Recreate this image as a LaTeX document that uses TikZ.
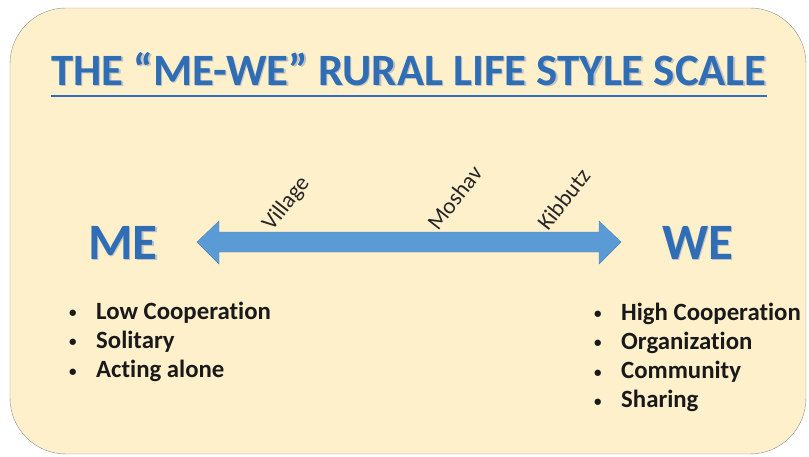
\documentclass[tikz,border=0pt]{standalone}
\usepackage{fontspec}
\setmainfont{Carlito}[Ligatures=NoCommon]
\usetikzlibrary{positioning}

\definecolor{paper}{HTML}{FFF0CC}
\definecolor{frame}{HTML}{8A8F96}
\definecolor{headblue}{HTML}{2F6EB5}
\definecolor{scaleblue}{HTML}{5B9BD5}

% text with a soft grey drop shadow
\newcommand{\shadowed}[1]{\makebox[0pt][l]{\hspace{1.3pt}\raisebox{-1.5pt}{\textcolor{black!24}{#1}}}#1}
% one bullet point, and a column of them hung from its first baseline
\newcommand{\itm}{\makebox[27pt][l]{\raisebox{1.5pt}{\fontsize{15}{15}\selectfont\textbullet}}}
\newcommand{\traitlist}[1]{\parbox[t]{230pt}{\raggedright #1}}

\begin{document}
\begin{tikzpicture}[x=1pt,y=-1pt,
title/.style ={anchor=base, text=headblue, inner sep=0pt,
  font=\fontsize{44.8}{52}\selectfont\bfseries
},
pole/.style ={anchor=base west, text=headblue, inner sep=0pt,
  font=\fontsize{51}{60}\selectfont\bfseries
},
tick/.style ={anchor=base west, rotate=52, inner sep=0pt,
  text=black!85, font=\fontsize{23}{27}\selectfont
},
traits/.style ={anchor=base west, inner sep=0pt,
  text=black!90, font=\fontsize{24.8}{29.3}\selectfont\bfseries
}]
\useasboundingbox (0,0) rectangle (809,456);
\draw[frame, fill=paper, rounded corners=56pt] (10,8) rectangle (806,454);

% heading
\node (title) at (409,85) [title] {\shadowed{THE “ME-WE” RURAL LIFE STYLE SCALE}};
\draw[headblue, line width=2.6pt] ([yshift=-11pt]title.base west) -- ([yshift=-11pt]title.base east);

% the scale itself
\fill[scaleblue, draw=scaleblue!85!black, line width=0.4pt]
  (197,242) -- (219,221) -- (219,232) -- (599,232) -- (599,221) -- (621,242)
  -- (599,264) -- (599,252) -- (219,252) -- (219,264) -- cycle;
\node (village) at (272,232) [tick] {Village};
\node (moshav) at (438,232) [tick] {Moshav};
\node (kibbutz) at (548,232) [tick] {Kibbutz};

\node (me) at (88,259) [pole] {\shadowed{ME}};
\node (we) at (662,259) [pole] {\shadowed{WE}};

\node (lowlist) at (69,319) [traits]
  {\traitlist{\itm Low Cooperation\\ \itm Solitary\\ \itm Acting alone}};
\node (highlist) at (594,320) [traits]
  {\traitlist{\itm High Cooperation\\ \itm Organization\\ \itm Community\\ \itm Sharing}};
\end{tikzpicture}
\end{document}
